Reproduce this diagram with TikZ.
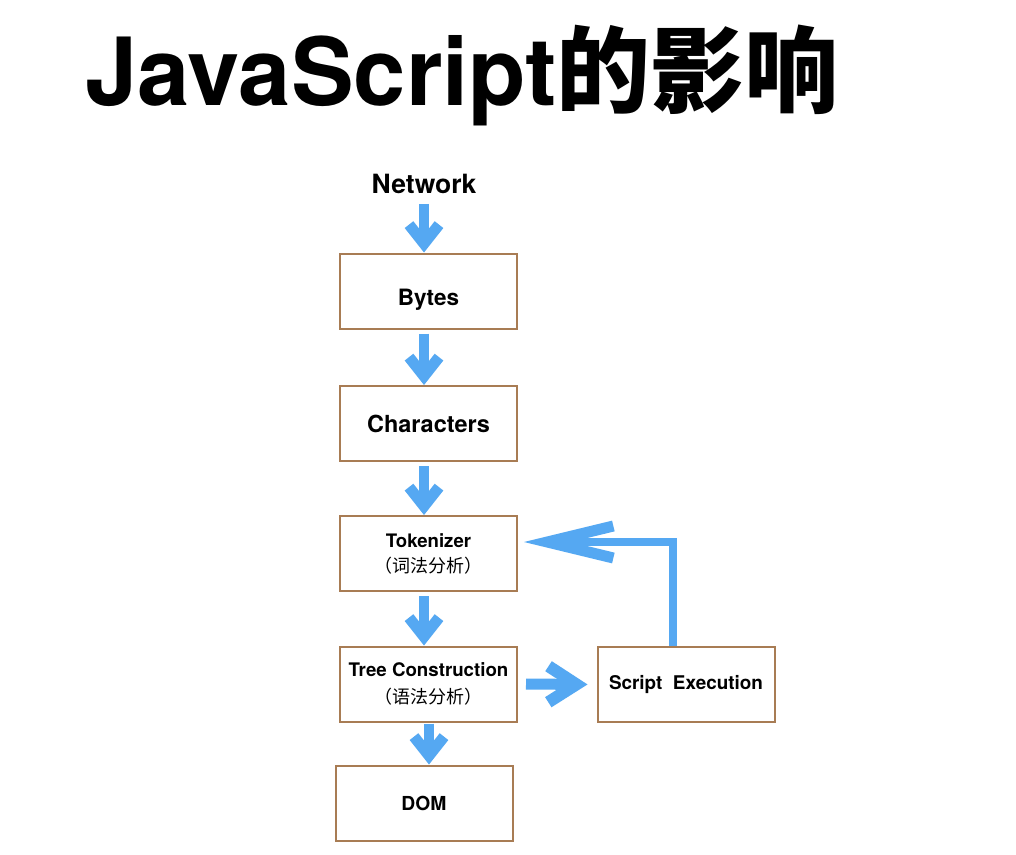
\documentclass[tikz,border=0pt]{standalone}
\usepackage{fontspec}
\setmainfont{TeX Gyre Heros}
\newfontfamily\cjk{Noto Sans CJK SC}
\usetikzlibrary{arrows.meta,calc}
\definecolor{boxc}{RGB}{168,124,84}
\definecolor{arrc}{RGB}{85,168,242}
\begin{document}
\begin{tikzpicture}[x=1pt,y=-1pt,
  box/.style={draw=boxc, line width=2pt, minimum width=177pt, minimum height=75pt,
    inner sep=0pt, align=center, font=\bfseries},
  flow/.style={draw=arrc, line width=10pt,
    -{Straight Barb[length=19pt, width=30pt, line width=11pt]}},
  sideflow/.style={draw=arrc, line width=11pt,
    -{Straight Barb[length=28pt, width=36pt, line width=12pt]}},
  backflow/.style={draw=arrc, line width=8pt, line join=miter,
    -{Straight Barb[length=66pt, width=32pt, line width=11pt]}},
  lbl/.style={inner sep=0pt, font=\bfseries}
]
\useasboundingbox[fill=white] (0,0) rectangle (1016,854);

% title
\node[anchor=base west, inner sep=0pt, font=\bfseries\fontsize{94}{100}\selectfont]
  (title) at (85,105) {JavaScript{\cjk\bfseries 的影响}};

% nodes
\node[lbl, font=\bfseries\fontsize{26.5}{30}\selectfont] (network) at (424,184) {Network};
\node[box, font=\bfseries\fontsize{22.5}{26}\selectfont] (bytes) at (428.5,291) {\raisebox{-14pt}[0pt][0pt]{Bytes}};
\node[box, font=\bfseries\fontsize{23.5}{27}\selectfont] (chars) at (428.5,423.5) {Characters};
\node[box, font=\bfseries\fontsize{18.6}{24}\selectfont] (tok) at (428.5,553.5)
  {Tokenizer\\[1pt]{\cjk\mdseries\fontsize{18}{22}\selectfont （词法分析）}};
\node[box, font=\bfseries\fontsize{18.7}{24}\selectfont] (tree) at (428.5,684)
  {Tree Construction\\[3pt]{\cjk\mdseries\fontsize{18}{22}\selectfont （语法分析）}};
\node[box, font=\bfseries\fontsize{19.3}{24}\selectfont] (dom) at (424,803) {DOM};
\node[box, font=\bfseries\fontsize{18.9}{24}\selectfont] (script) at (686,684.5) {Script\ \ Execution};

% connectors
\draw[flow, shorten <=10pt] (network.south) -- (network.south |- bytes.north);
\draw[flow, shorten <=4pt] (bytes.south -| network.south) -- (chars.north -| network.south);
\draw[flow, shorten <=4pt] (chars.south -| network.south) -- (tok.north -| network.south);
\draw[flow, shorten <=4pt] (tok.south -| network.south) -- (tree.north -| network.south);
\draw[flow, shorten <=1pt] ($(tree.south)+(0.5,0)$) -- ($(dom.north)+(5,0)$);
\draw[sideflow, shorten <=8pt, shorten >=9pt] (tree.east) -- (script.west);
\coordinate (corner) at ($(script.north)+(-13,-104)$);
\draw[backflow, shorten >=6pt] ($(script.north)+(-13,0)$) -- (corner) -- (corner -| tok.east);
\end{tikzpicture}
\end{document}
